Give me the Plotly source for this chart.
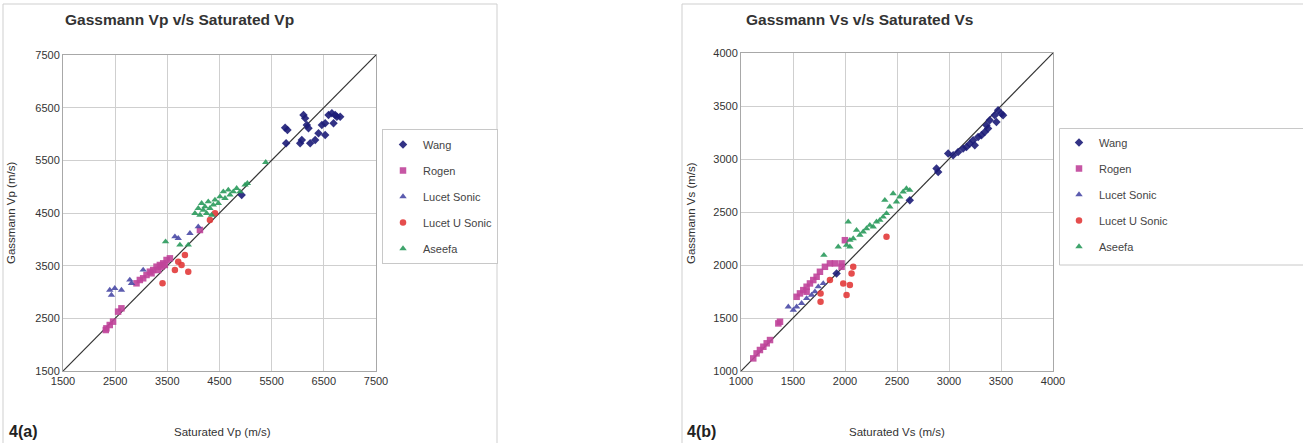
import plotly.graph_objects as go

W, H = 1303, 443

# ---------------- Panel 4(a): Vp ----------------
vp_wang_x = [5758, 5803, 5777, 6046, 6078, 6110, 6142, 6174, 6206, 6238, 6334, 6398, 6462, 6526, 6590, 6654, 6718, 6750, 6814, 6686, 6526, 4925]
vp_wang_y = [6120, 6076, 5823, 5823, 5886, 6361, 6297, 6171, 6108, 5823, 5886, 6013, 6171, 6203, 6361, 6392, 6361, 6329, 6329, 6203, 5981, 4842]

vp_rogen_x = [2332, 2396, 2460, 2556, 2620, 2909, 2973, 3037, 3101, 3165, 3229, 3293, 3357, 3421, 3485, 3549, 3197, 3325, 3389, 3453, 2320, 4125]
vp_rogen_y = [2310, 2373, 2437, 2627, 2690, 3165, 3228, 3260, 3323, 3386, 3418, 3481, 3513, 3544, 3608, 3639, 3355, 3418, 3481, 3513, 2278, 4177]

vp_lsonic_x = [2396, 2428, 2492, 2620, 2781, 2813, 3037, 3645, 3709, 3933, 4093]
vp_lsonic_y = [3038, 2943, 3070, 3038, 3228, 3165, 3418, 4051, 4019, 4114, 4240]

vp_lusonic_x = [3408, 3645, 3773, 3837, 3901, 3709, 4317, 4413]
vp_lusonic_y = [3165, 3418, 3513, 3703, 3386, 3576, 4367, 4494]

vp_aseefa_x = [4029, 4093, 4157, 4189, 4221, 4253, 4285, 4317, 4381, 4413, 4477, 4509, 4573, 4605, 4669, 4701, 4765, 4829, 4893, 4990, 5034, 4125, 4349, 3466, 3741, 3901, 5386]
vp_aseefa_y = [4494, 4589, 4684, 4557, 4620, 4494, 4715, 4589, 4652, 4747, 4684, 4810, 4905, 4778, 4937, 4842, 4905, 4968, 4905, 5032, 5063, 4462, 4462, 3956, 3893, 3893, 5462]

vp_line = [1500, 7500]
vp_ticks = [1500, 2500, 3500, 4500, 5500, 6500, 7500]

# ---------------- Panel 4(b): Vs ----------------
vs_wang_x = [2623, 2896, 2880, 2992, 3040, 3088, 3136, 3168, 3200, 3232, 3248, 3280, 3312, 3344, 3376, 3392, 3440, 3472, 3504, 3520, 3456, 3360, 1919]
vs_wang_y = [2611, 2878, 2910, 3051, 3035, 3067, 3098, 3114, 3145, 3177, 3130, 3208, 3224, 3255, 3287, 3365, 3412, 3459, 3428, 3412, 3350, 3318, 1920]

vs_rogen_x = [1118, 1150, 1182, 1215, 1247, 1279, 1359, 1375, 1535, 1567, 1599, 1631, 1663, 1695, 1727, 1759, 1807, 1855, 1903, 1967, 1999, 1967, 1631]
vs_rogen_y = [1119, 1166, 1198, 1229, 1261, 1292, 1449, 1465, 1700, 1732, 1763, 1795, 1826, 1858, 1889, 1936, 1983, 2015, 2015, 2015, 2234, 1983, 1748]

vs_lsonic_x = [1455, 1503, 1535, 1583, 1631, 1679, 1711, 1743, 1791]
vs_lsonic_y = [1606, 1575, 1606, 1638, 1685, 1716, 1748, 1795, 1826]

vs_lusonic_x = [1765, 1765, 1855, 1983, 2015, 2047, 2063, 2079, 2399]
vs_lusonic_y = [1732, 1653, 1858, 1826, 1716, 1811, 1920, 1983, 2266]

vs_aseefa_x = [1797, 1935, 2031, 2047, 2111, 2143, 2175, 2207, 2239, 2271, 2303, 2335, 2367, 2399, 2383, 2431, 2463, 2495, 2527, 2559, 2591, 2623, 2047, 2015, 2079]
vs_aseefa_y = [2093, 2172, 2407, 2172, 2329, 2282, 2313, 2344, 2376, 2360, 2407, 2423, 2454, 2486, 2611, 2549, 2674, 2596, 2643, 2690, 2721, 2706, 2234, 2187, 2250]

vs_line = [1000, 4000]
vs_ticks = [1000, 1500, 2000, 2500, 3000, 3500, 4000]

series_names = ["Wang", "Rogen", "Lucet Sonic", "Lucet U Sonic", "Aseefa"]
series_colors = ["#1c1c78", "#c0449a", "#4a4aa6", "#e23a3a", "#2a9a5c"]
series_symbols = ["diamond", "square", "triangle-up", "circle", "triangle-up"]

FONT = "Liberation Sans, Arial, sans-serif"

fig = go.Figure()

vp_sets = [(vp_wang_x, vp_wang_y), (vp_rogen_x, vp_rogen_y), (vp_lsonic_x, vp_lsonic_y),
           (vp_lusonic_x, vp_lusonic_y), (vp_aseefa_x, vp_aseefa_y)]
vs_sets = [(vs_wang_x, vs_wang_y), (vs_rogen_x, vs_rogen_y), (vs_lsonic_x, vs_lsonic_y),
           (vs_lusonic_x, vs_lusonic_y), (vs_aseefa_x, vs_aseefa_y)]

# 1:1 lines
fig.add_trace(go.Scatter(x=vp_line, y=vp_line, mode="lines", line=dict(color="#333333", width=1.2),
                         showlegend=False, xaxis="x", yaxis="y", hoverinfo="skip"))
fig.add_trace(go.Scatter(x=vs_line, y=vs_line, mode="lines", line=dict(color="#333333", width=1.2),
                         showlegend=False, xaxis="x2", yaxis="y2", hoverinfo="skip"))

for i, (xs, ys) in enumerate(vp_sets):
    fig.add_trace(go.Scatter(x=xs, y=ys, mode="markers", name=series_names[i],
                             marker=dict(color=series_colors[i], symbol=series_symbols[i], size=6.5, opacity=0.9),
                             xaxis="x", yaxis="y", legend="legend", legendgroup="a%d" % i))
for i, (xs, ys) in enumerate(vs_sets):
    fig.add_trace(go.Scatter(x=xs, y=ys, mode="markers", name=series_names[i],
                             marker=dict(color=series_colors[i], symbol=series_symbols[i], size=6.5, opacity=0.9),
                             xaxis="x2", yaxis="y2", legend="legend2", legendgroup="b%d" % i))

def px_x(p):
    return p / W

def px_y(p):
    return 1 - p / H

axis_common = dict(showgrid=True, gridcolor="#cfcfcf", gridwidth=1, zeroline=False,
                   showline=True, linecolor="#a8a8a8", linewidth=1, mirror=True,
                   ticks="", tickfont=dict(family=FONT, size=11, color="#333333"))

fig.update_layout(
    width=W, height=H, margin=dict(l=0, r=0, t=0, b=0, autoexpand=False),
    paper_bgcolor="white", plot_bgcolor="white",
    font=dict(family=FONT, color="#333333"),
    xaxis=dict(axis_common, domain=[px_x(63), px_x(376)], range=[1500, 7500],
               tickvals=vp_ticks, anchor="y"),
    yaxis=dict(axis_common, domain=[px_y(371), px_y(55)], range=[1500, 7500],
               tickvals=vp_ticks, anchor="x"),
    xaxis2=dict(axis_common, domain=[px_x(741), px_x(1053)], range=[1000, 4000],
                tickvals=vs_ticks, anchor="y2"),
    yaxis2=dict(axis_common, domain=[px_y(371), px_y(53)], range=[1000, 4000],
                tickvals=vs_ticks, anchor="x2"),
    legend=dict(x=px_x(382), y=px_y(129), xanchor="left", yanchor="top",
                bgcolor="white", bordercolor="#c8c8c8", borderwidth=1,
                font=dict(family=FONT, size=11, color="#444444"),
                tracegroupgap=7, entrywidth=72, itemwidth=30),
    legend2=dict(x=px_x(1059), y=px_y(128), xanchor="left", yanchor="top",
                 bgcolor="rgba(0,0,0,0)", borderwidth=0,
                 font=dict(family=FONT, size=11, color="#444444"),
                 tracegroupgap=7, itemwidth=30),
    showlegend=True,
)

# Panel borders
fig.add_shape(type="rect", xref="paper", yref="paper", x0=px_x(3), x1=px_x(497), y0=px_y(446), y1=px_y(4),
              line=dict(color="#cfcfcf", width=1), layer="below")
fig.add_shape(type="rect", xref="paper", yref="paper", x0=px_x(682), x1=px_x(1306), y0=px_y(446), y1=px_y(4),
              line=dict(color="#cfcfcf", width=1), layer="below")
# Right legend frame (runs off the right edge as in the original)
fig.add_shape(type="rect", xref="paper", yref="paper", x0=px_x(1059.5), x1=px_x(1310), y0=px_y(265), y1=px_y(128.5),
              line=dict(color="#c8c8c8", width=1), fillcolor="white", layer="below")

ann = []
ann.append(dict(text="<b>Gassmann Vp v/s Saturated Vp</b>", x=px_x(63), y=px_y(20), xanchor="left", yanchor="middle",
                font=dict(family=FONT, size=15.5, color="#333333")))
ann.append(dict(text="<b>Gassmann Vs v/s Saturated Vs</b>", x=px_x(744), y=px_y(20), xanchor="left", yanchor="middle",
                font=dict(family=FONT, size=15.5, color="#333333")))
ann.append(dict(text="Saturated Vp (m/s)", x=px_x(222), y=px_y(432), xanchor="center", yanchor="middle",
                font=dict(family=FONT, size=11.5, color="#333333")))
ann.append(dict(text="Saturated Vs (m/s)", x=px_x(897), y=px_y(432), xanchor="center", yanchor="middle",
                font=dict(family=FONT, size=11.5, color="#333333")))
ann.append(dict(text="Gassmann Vp (m/s)", x=px_x(11), y=px_y(213), xanchor="center", yanchor="middle", textangle=-90,
                font=dict(family=FONT, size=11.5, color="#333333")))
ann.append(dict(text="Gassmann Vs (m/s)", x=px_x(691), y=px_y(213), xanchor="center", yanchor="middle", textangle=-90,
                font=dict(family=FONT, size=11.5, color="#333333")))
ann.append(dict(text="<b>4(a)</b>", x=px_x(7), y=px_y(431), xanchor="left", yanchor="middle",
                font=dict(family=FONT, size=16, color="#222222")))
ann.append(dict(text="<b>4(b)</b>", x=px_x(685), y=px_y(431), xanchor="left", yanchor="middle",
                font=dict(family=FONT, size=16, color="#222222")))
for a in ann:
    a.update(xref="paper", yref="paper", showarrow=False)
fig.update_layout(annotations=ann)

fig.write_html("out.html")
